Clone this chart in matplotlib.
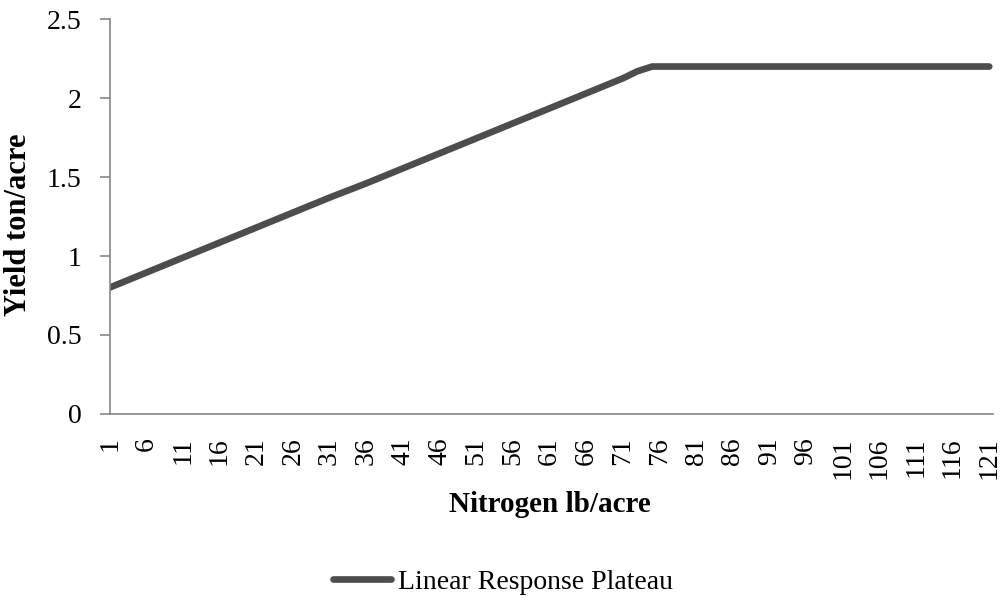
import matplotlib
matplotlib.use("Agg")
import matplotlib.pyplot as plt

plt.rcParams['font.family'] = ['Liberation Serif', 'DejaVu Serif']

# values (nitrogen category -> yield)
nitrogen = [1, 6, 11, 16, 21, 26, 31, 36, 41, 46, 51, 56, 61, 66, 71, 73, 75, 76, 81, 121]
yield_ton = [0.80, 0.895, 0.99, 1.085, 1.18, 1.275, 1.37, 1.46, 1.555, 1.65,
             1.745, 1.84, 1.935, 2.03, 2.125, 2.17, 2.20, 2.20, 2.20, 2.20]
tick_labels = list(range(1, 122, 5))
y_ticks = [0, 0.5, 1, 1.5, 2, 2.5]

fig = plt.figure(figsize=(10.06, 5.99), dpi=100)
ax = fig.add_axes([0.109, 0.309, 0.878, 0.659])

ax.plot(nitrogen, yield_ton, color='#4d4d4d', lw=4.8, solid_capstyle='round',
        label='Linear Response Plateau')

ax.set_xlim(1, 121.5)
ax.set_ylim(0, 2.5)
ax.set_xticks(tick_labels)
ax.set_xticklabels([str(t) for t in tick_labels], rotation=90, fontsize=20)
ax.set_yticks(y_ticks)
ax.set_yticklabels(['0', '0.5', '1', '1.5', '2', '2.5'], fontsize=20)
ax.tick_params(axis='x', length=0, pad=17)
ax.tick_params(axis='y', length=7.2, width=1.2, color='#868686', pad=13)

for s in ['top', 'right']:
    ax.spines[s].set_visible(False)
for s in ['left', 'bottom']:
    ax.spines[s].set_color('#868686')
    ax.spines[s].set_linewidth(1.2)

ax.set_xlabel('Nitrogen lb/acre', fontsize=21, fontweight='bold')
ax.xaxis.set_label_coords(0.498, -0.195)
ax.set_ylabel('Yield ton/acre', fontsize=22, fontweight='bold')
ax.yaxis.set_label_coords(-0.087, 0.478)

fig.legend(loc='center', bbox_to_anchor=(0.5, 0.028), frameon=False, fontsize=20,
           handlelength=2.1, handletextpad=0.25)

fig.savefig('out.png', dpi=100)
